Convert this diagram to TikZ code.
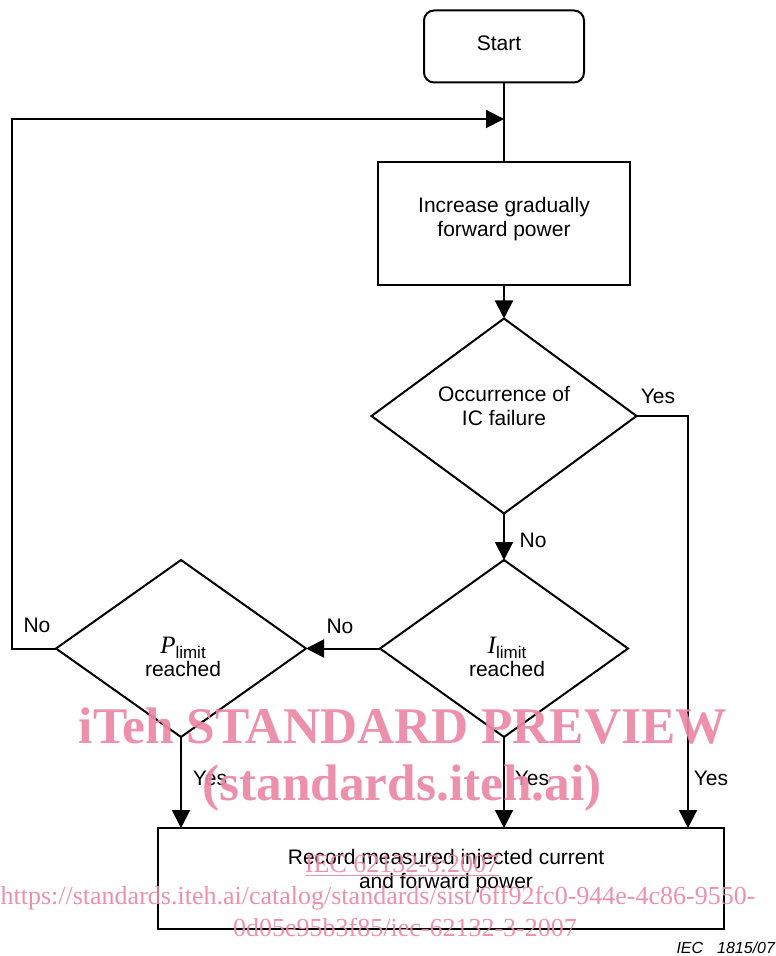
\documentclass[tikz,border=0pt]{standalone}
\usepackage{fontspec}
\setmainfont{Liberation Sans}
\newfontfamily\serif{Liberation Serif}
\usetikzlibrary{shapes.geometric,arrows.meta}
\definecolor{wm}{RGB}{236,135,165}
\newcommand{\limsym}[1]{{\fontsize{12.5}{12}\selectfont\serif\itshape #1}\raisebox{-2.5pt}{\fontsize{8.5}{9}\selectfont limit}}
\begin{document}
\begin{tikzpicture}[x=0.5pt,y=-0.5pt,
  every node/.style={font=\fontsize{10.5}{11.8}\selectfont, inner sep=0pt, outer sep=0pt},
  ln/.style={line width=1pt},
  arr/.style={ln,-{Triangle[length=9pt,width=9pt]}},
  box/.style={draw,ln,rectangle},
  dia/.style={draw,ln,diamond},
  txt/.style={align=center},
  lab/.style={anchor=base},
  wmk/.style={text=wm, font=\serif\bfseries\fontsize{25.7}{25.7}\selectfont, anchor=base, opacity=0.92},
  wms/.style={text=wm, font=\serif\fontsize{13}{13}\selectfont, anchor=base, opacity=0.92}
]
\useasboundingbox (0,0) rectangle (775,956);

% shapes
\node[box, rounded corners=5pt, minimum width=80pt, minimum height=36pt] (start) at (504,46.5) {};
\node[txt] (startT) at (499,43.5) {Start};
\node[box, minimum width=126pt, minimum height=61.5pt] (incr) at (504,223.5) {};
\node[txt] (incrT) at (504,219) {Increase gradually\\forward power};
\node[dia, minimum width=132.5pt, minimum height=97.5pt] (d1) at (504,416) {};
\node[txt] (d1T) at (504,406) {Occurrence of\\IC failure};
\node[dia, minimum width=124pt, minimum height=88.5pt] (d2) at (504,648.5) {};
\node[txt] (d2T) at (507,657) {\limsym{I}\\reached};
\node[dia, minimum width=125pt, minimum height=88.5pt] (d3) at (181,648.5) {};
\node[txt] (d3T) at (183,657) {\limsym{P}\\reached};
\node[box, minimum width=283pt, minimum height=50.5pt] (rec) at (441,878.5) {};
\node[txt] (recT) at (446,871) {Record measured injected current\\and forward power};

% helper coordinates
\coordinate (lt) at (12,119);
\coordinate (jn) at (504,119);
\coordinate (ry) at (688,828);

% connectors
\draw[ln] (start.south) -- (incr.north);
\draw[arr] (d3.west) -| (lt) -- (jn);
\draw[arr] (incr.south) -- (d1.north);
\draw[arr] (d1.south) -- (d2.north);
\draw[arr] (d1.east) -| (ry);
\draw[arr] (d2.west) -- (d3.east);
\draw[arr] (d2.south) -- (d2.south |- rec.north);
\draw[arr] (d3.south) -- (d3.south |- rec.north);

% labels
\node[lab] (y1) at (658,403.5) {Yes};
\node[lab] (n1) at (533,547.5) {No};
\node[lab] (n2) at (340,633.5) {No};
\node[lab] (n3) at (37,632.5) {No};
\node[lab] (y2) at (210,785.5) {Yes};
\node[lab] (y3) at (532,785.5) {Yes};
\node[lab] (y4) at (711,785.5) {Yes};
\node[anchor=base east, font=\fontsize{8}{9}\selectfont\itshape] (fig) at (775,953) {IEC\hspace{7pt}1815/07};

% watermark
\node[wmk] (w1) at (403,743) {iTeh STANDARD PREVIEW};
\node[wmk] (w2) at (402,800) {(standards.iteh.ai)};
\node[wms] (w3) at (402,872) {\underline{IEC 62132-3:2007}};
\node[wms] (w4) at (378,904) {https://standards.iteh.ai/catalog/standards/sist/6ff92fc0-944e-4c86-9550-};
\node[wms] (w5) at (405,936) {0d05e95b3f85/iec-62132-3-2007};
\end{tikzpicture}
\end{document}
